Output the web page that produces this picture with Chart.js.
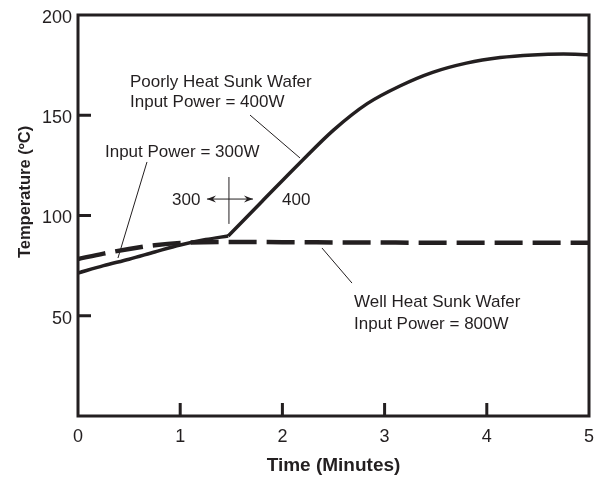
<!DOCTYPE html>
<html>
<head>
<meta charset="utf-8">
<script src="https://cdn.jsdelivr.net/npm/chart.js@4"></script>
<style>
  html, body { margin: 0; padding: 0; background: #fff; }
  #wrap { width: 595px; height: 477px; }
</style>
</head>
<body>
<div id="wrap"><canvas id="myChart" width="595" height="477"></canvas></div>
<script>
// time in minutes
var tempo_pobre = [0, 0.25, 0.5, 0.75, 1.0, 1.25, 1.47, 1.8, 2.17, 2.5, 2.83, 3.15, 3.47, 3.8, 4.13, 4.45, 4.75, 5.0];
var temp_pobre  = [71.3, 75, 78.2, 81.8, 85.3, 88.0, 89.8, 107, 126.2, 142.6, 155.8, 164.6, 171.4, 176.0, 178.8, 180.1, 180.5, 180.2];
var troca_potencia = 1.47; // 300W -> 400W

var tempo_bom = [0, 0.25, 0.5, 0.75, 1.0, 1.5, 2.0, 3.0, 4.0, 5.0];
var temp_bom  = [78.3, 81, 83.3, 85.2, 86.3, 86.8, 86.7, 86.5, 86.4, 86.4];

var ticks_x = [0, 1, 2, 3, 4, 5];
var ticks_y = [50, 100, 150, 200];

var cor = '#231f20';
var fonte = '"Liberation Sans", Arial, sans-serif';

function pares(xs, ys) {
    return xs.map(function (x, i) { return { x: x, y: ys[i] }; });
}
var pobre = pares(tempo_pobre, temp_pobre);
var antes = pobre.filter(function (p) { return p.x <= troca_potencia; });
var depois = pobre.filter(function (p) { return p.x >= troca_potencia; });

// frame, inward ticks, y title and annotations
var extras = {
    id: 'extras',
    afterDraw: function (chart) {
        var ctx = chart.ctx;
        var a = chart.chartArea;
        var sx = chart.scales.x, sy = chart.scales.y;
        function X(v) { return sx.getPixelForValue(v); }
        function Y(v) { return sy.getPixelForValue(v); }

        ctx.save();
        ctx.strokeStyle = cor;
        ctx.lineWidth = 3;
        ctx.strokeRect(a.left, a.top, a.right - a.left, a.bottom - a.top);

        ctx.beginPath();
        ticks_y.forEach(function (v) {
            if (v >= 200) return;
            ctx.moveTo(a.left, Y(v));
            ctx.lineTo(a.left + 13, Y(v));
        });
        ticks_x.forEach(function (v) {
            if (v <= 0 || v >= 5) return;
            ctx.moveTo(X(v), a.bottom);
            ctx.lineTo(X(v), a.bottom - 13);
        });
        ctx.stroke();

        ctx.fillStyle = cor;

        // y title
        ctx.save();
        ctx.translate(30, 192);
        ctx.rotate(-Math.PI / 2);
        ctx.font = 'bold 16.5px ' + fonte;
        ctx.textAlign = 'center';
        ctx.textBaseline = 'alphabetic';
        ctx.fillText('Temperature (ºC)', 0, 0);
        ctx.restore();

        // texts
        ctx.font = '17px ' + fonte;
        ctx.textAlign = 'left';
        ctx.textBaseline = 'alphabetic';
        ctx.fillText('Poorly Heat Sunk Wafer', X(0.509), Y(164.1));
        ctx.fillText('Input Power = 400W', X(0.509), Y(154.1));
        ctx.fillText('Input Power = 300W', X(0.264), Y(129.2));
        ctx.fillText('300', X(0.92), Y(105.2));
        ctx.fillText('400', X(1.996), Y(105.2));
        ctx.fillText('Well Heat Sunk Wafer', X(2.701), Y(54.4));
        ctx.fillText('Input Power = 800W', X(2.701), Y(43.4));

        // leader lines
        ctx.lineWidth = 1;
        ctx.beginPath();
        ctx.moveTo(X(1.683), Y(150.1)); ctx.lineTo(X(2.172), Y(128.7));
        ctx.moveTo(X(0.675), Y(126.7)); ctx.lineTo(X(0.391), Y(78.8));
        ctx.moveTo(X(2.387), Y(83.8)); ctx.lineTo(X(2.681), Y(66.3));
        // arrow
        ctx.moveTo(X(1.262), Y(108.2)); ctx.lineTo(X(1.712), Y(108.2));
        ctx.moveTo(X(1.477), Y(119.2)); ctx.lineTo(X(1.477), Y(95.8));
        ctx.stroke();

        function ponta(x, y, dir) {
            ctx.beginPath();
            ctx.moveTo(x, y);
            ctx.lineTo(x - dir * 9, y - 3.5);
            ctx.lineTo(x - dir * 6, y);
            ctx.lineTo(x - dir * 9, y + 3.5);
            ctx.closePath();
            ctx.fill();
        }
        ponta(X(1.262), Y(108.2), -1);
        ponta(X(1.712), Y(108.2), 1);
        ctx.restore();
    }
};

var ctx = document.getElementById('myChart').getContext('2d');
var myChart = new Chart(ctx, {
    type: 'scatter',
    data: {
        datasets: [{
            label: 'Poorly Heat Sunk Wafer (300W)',
            data: antes,
            showLine: true,
            borderColor: cor,
            borderWidth: 3.5,
            pointRadius: 0,
            cubicInterpolationMode: 'monotone'
        }, {
            label: 'Poorly Heat Sunk Wafer (400W)',
            data: depois,
            showLine: true,
            borderColor: cor,
            borderWidth: 3.5,
            pointRadius: 0,
            cubicInterpolationMode: 'monotone'
        }, {
            label: 'Well Heat Sunk Wafer',
            data: pares(tempo_bom, temp_bom),
            showLine: true,
            borderColor: cor,
            borderWidth: 4.5,
            borderDash: [28, 10],
            pointRadius: 0,
            cubicInterpolationMode: 'monotone'
        }]
    },
    plugins: [extras],
    options: {
        responsive: false,
        animation: false,
        layout: { padding: { top: 15, right: 6, left: 0, bottom: 0 } },
        plugins: {
            legend: { display: false },
            tooltip: { enabled: false }
        },
        scales: {
            x: {
                type: 'linear',
                min: 0,
                max: 5,
                afterFit: function (s) { s.height = 61; s.paddingRight = 0; s.paddingLeft = 0; },
                afterBuildTicks: function (s) { s.ticks = ticks_x.map(function (v) { return { value: v }; }); },
                grid: { display: false, drawTicks: false },
                border: { display: false },
                ticks: {
                    color: cor,
                    padding: 10,
                    maxRotation: 0,
                    font: { family: fonte, size: 18 }
                },
                title: {
                    display: true,
                    text: 'Time (Minutes)',
                    color: cor,
                    padding: { top: 6, bottom: 0 },
                    font: { family: fonte, size: 19, weight: 'bold' }
                }
            },
            y: {
                min: 0,
                max: 200,
                afterFit: function (s) { s.width = 78; s.paddingTop = 0; s.paddingBottom = 0; },
                afterBuildTicks: function (s) { s.ticks = ticks_y.map(function (v) { return { value: v }; }); },
                grid: { display: false, drawTicks: false },
                border: { display: false },
                ticks: {
                    color: cor,
                    padding: 6,
                    labelOffset: 3,
                    font: { family: fonte, size: 18 }
                }
            }
        }
    }
});
</script>
</body>
</html>
